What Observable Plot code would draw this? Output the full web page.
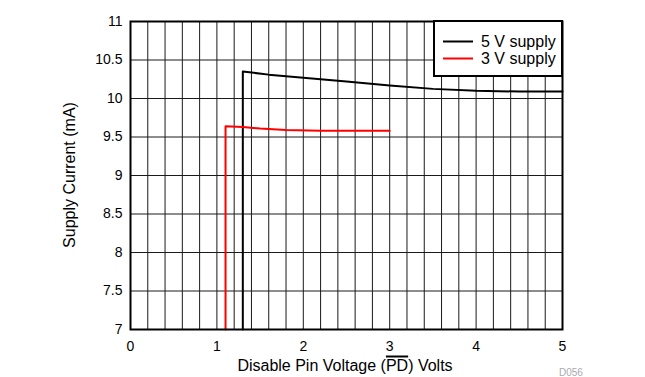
<!DOCTYPE html>
<html>
<head>
<meta charset="utf-8">
<script src="https://cdn.jsdelivr.net/npm/d3@7"></script>
<script src="https://cdn.jsdelivr.net/npm/@observablehq/plot@0.6"></script>
<style>
  body { margin: 0; background: #fff; font-family: "Liberation Sans", Arial, Helvetica, sans-serif; }
  #wrap { position: relative; width: 645px; height: 377px; }
  #rule { position: absolute; left: 0; top: 4px; width: 637px; border-top: 1.5px solid #555; }
  #wrap svg { position: absolute; left: 0; top: 0; }
</style>
</head>
<body>
<div id="wrap"><div id="rule"></div></div>
<script>
// Supply current vs. disable pin voltage, two supply rails
const voltage5V = [1.3, 1.3, 1.6, 2.0, 2.5, 3.0, 3.5, 4.0, 4.5, 5.0];
const current5V = [7, 10.35, 10.31, 10.27, 10.22, 10.17, 10.125, 10.10, 10.09, 10.09];
const voltage3V = [1.1, 1.1, 1.3, 1.5, 1.8, 2.2, 2.5, 3.0];
const current3V = [7, 9.64, 9.63, 9.61, 9.59, 9.58, 9.58, 9.58];

const seriesNames = ["5 V supply", "3 V supply"];
const seriesColors = ["#000000", "#ff0000"];

const xTicks = [0, 1, 2, 3, 4, 5];
const xGrid = d3.range(0, 26).map(i => i / 5);
const yTicks = [7, 7.5, 8, 8.5, 9, 9.5, 10, 10.5, 11];

const xTitle = ["Disable Pin Voltage (", "PD", ") Volts"];
const yTitle = "Supply Current (mA)";
const figureId = "D056";

const rows5 = voltage5V.map((v, i) => ({v, c: current5V[i]}));
const rows3 = voltage3V.map((v, i) => ({v, c: current3V[i]}));

const W = 645, H = 377;
const m = {left: 130, right: 83, top: 21, bottom: 48};

const chart = Plot.plot({
  width: W,
  height: H,
  marginLeft: m.left,
  marginRight: m.right,
  marginTop: m.top,
  marginBottom: m.bottom,
  style: {fontFamily: '"Liberation Sans", Arial, sans-serif', fontSize: "14px", color: "#000", background: "#fff"},
  x: {domain: [0, 5]},
  y: {domain: [7, 11]},
  marks: [
    Plot.gridX(xGrid, {stroke: "#1a1a1a", strokeOpacity: 1, strokeWidth: 1}),
    Plot.gridY(yTicks, {stroke: "#1a1a1a", strokeOpacity: 1, strokeWidth: 1}),
    Plot.line(rows5, {x: "v", y: "c", stroke: seriesColors[0], strokeWidth: 2}),
    Plot.line(rows3, {x: "v", y: "c", stroke: seriesColors[1], strokeWidth: 2}),
    Plot.frame({stroke: "#000", strokeWidth: 2}),
    Plot.axisX({ticks: xTicks, tickSize: 0, tickPadding: 12, label: null, tickFormat: d => String(d)}),
    Plot.axisY({ticks: yTicks, tickSize: 0, tickPadding: 8, label: null, tickFormat: d => String(d)})
  ]
});

document.getElementById("wrap").appendChild(chart);

const svg = d3.select(chart);
const font = '"Liberation Sans", Arial, sans-serif';
const plotRight = W - m.right, plotBottom = H - m.bottom;

// Legend box in the upper-right corner of the frame
const lg = svg.append("g").attr("text-anchor", "start");
lg.append("rect")
  .attr("x", 434).attr("y", m.top)
  .attr("width", plotRight - 434).attr("height", 55)
  .attr("fill", "#fff").attr("stroke", "#000").attr("stroke-width", 2);
seriesNames.forEach((name, i) => {
  const y = 41.5 + i * 17;
  lg.append("line").attr("x1", 443).attr("x2", 473).attr("y1", y).attr("y2", y)
    .attr("stroke", seriesColors[i]).attr("stroke-width", 2);
  lg.append("text").attr("x", 481).attr("y", y + 5.5)
    .attr("text-anchor", "start")
    .attr("font-family", font).attr("font-size", 16).attr("fill", "#000")
    .text(name);
});

// X-axis title with an overline on the pin name
const xt = svg.append("text")
  .attr("x", (m.left + plotRight) / 2 - 1).attr("y", 370.5)
  .attr("text-anchor", "middle")
  .attr("font-family", font).attr("font-size", 16).attr("fill", "#000");
xt.append("tspan").text(xTitle[0]);
xt.append("tspan").text(xTitle[1]);
xt.append("tspan").text(xTitle[2]);
const startIdx = xTitle[0].length;
const endIdx = startIdx + xTitle[1].length - 1;
const node = xt.node();
const p0 = node.getStartPositionOfChar(startIdx).x;
const p1 = node.getEndPositionOfChar(endIdx).x;
svg.append("line").attr("x1", p0).attr("x2", p1).attr("y1", 356.5).attr("y2", 356.5)
  .attr("stroke", "#000").attr("stroke-width", 2);

// Y-axis title
svg.append("text")
  .attr("transform", `translate(75,${(m.top + plotBottom) / 2}) rotate(-90)`)
  .attr("text-anchor", "middle")
  .attr("font-family", font).attr("font-size", 16).attr("fill", "#000")
  .text(yTitle);

// Figure identifier
svg.append("text")
  .attr("x", 559).attr("y", 376)
  .attr("text-anchor", "start")
  .attr("font-family", font).attr("font-size", 10).attr("fill", "#aaa")
  .text(figureId);
</script>
</body>
</html>
